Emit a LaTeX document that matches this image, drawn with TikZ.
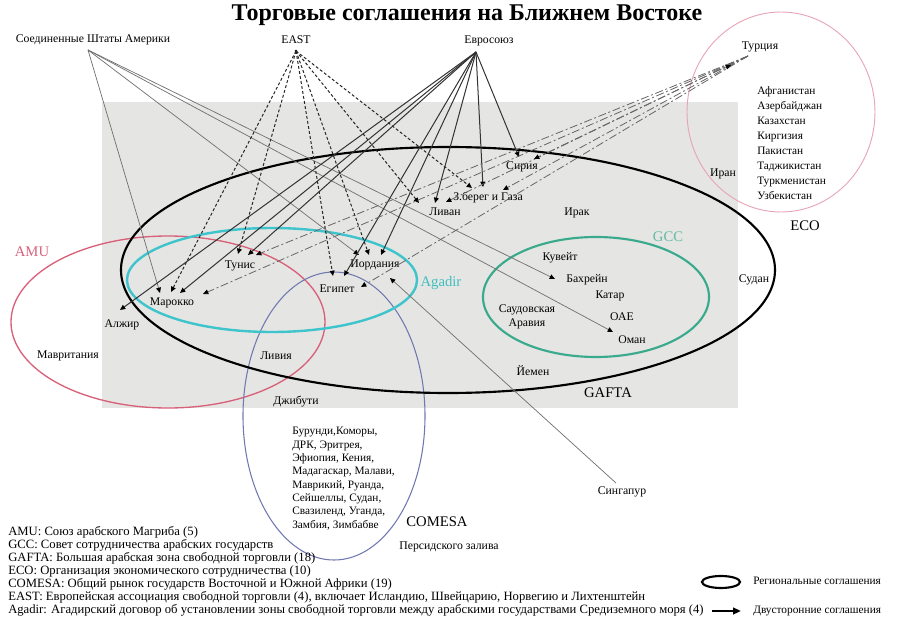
\documentclass[tikz,border=0pt]{standalone}
\usepackage{fontspec}
\setmainfont{Liberation Serif}
\usetikzlibrary{arrows.meta}
\definecolor{graybg}{HTML}{E5E5E3}
\definecolor{amucol}{HTML}{D9607A}
\definecolor{ecocol}{HTML}{E6A6B6}
\definecolor{comcol}{HTML}{7078B0}
\definecolor{agcol}{HTML}{3EC4CC}
\definecolor{gcccol}{HTML}{3AAA8C}
\tikzset{
  lbl/.style={font=\fontsize{8.8}{10}\selectfont, inner sep=0pt},
  big/.style={font=\fontsize{11}{13}\selectfont, inner sep=0pt},
  leg/.style={font=\fontsize{9.5}{10}\selectfont, inner sep=0pt, anchor=base west},
  tipped/.style={-{Triangle[length=4pt,width=3.6pt,color=black]}},
  usaline/.style={tipped, draw=black!55, line width=0.55pt},
  euline/.style={tipped, draw=black!80, line width=0.75pt},
  eftaline/.style={tipped, draw=black!85, line width=0.75pt, dash pattern=on 2.2pt off 1.6pt},
  tkline/.style={tipped, draw=black!60, line width=0.6pt, dash pattern=on 6pt off 2pt on 1.5pt off 2pt},
  sgline/.style={tipped, draw=black!55, line width=0.55pt},
}
\begin{document}
\begin{tikzpicture}[x=0.75pt,y=-0.75pt]
\useasboundingbox (0,0) rectangle (897,617);
% background
\fill[graybg] (102,102) rectangle (738,408);
% regional agreements
\draw[amucol, line width=1pt] (168,322) ellipse [x radius=157, y radius=86];
\draw[ecocol, line width=0.7pt] (781,112) ellipse [x radius=94, y radius=100];
\draw[comcol, line width=0.8pt] (334,416) ellipse [x radius=91, y radius=144];
\draw[agcol, line width=1.8pt] (272,280) ellipse [x radius=145, y radius=52];
\draw[gcccol, line width=1.6pt] (596,297) ellipse [x radius=113, y radius=60];
\draw[black, line width=1.6pt] (448,270) ellipse [x radius=327, y radius=123];

% title
\node[font=\fontsize{18}{21}\selectfont\bfseries, inner sep=0pt, anchor=base] (title) at (467,21) {Торговые соглашения на Ближнем Востоке};

% sources
\node[lbl] (usa) at (93,40) {Соединенные Штаты Америки};
\node[lbl] (east) at (296,40) {EAST};
\node[lbl] (eu) at (489,41) {Евросоюз};
\node[lbl] (tur) at (760,47) {Турция};
\coordinate (sUSA) at (88,50);
\coordinate (sEAST) at (296,51);
\coordinate (sEU) at (476,52);
\coordinate (sTK) at (748,56);
\fill (sEAST) circle [radius=1.3];

% group labels
\node[big, text=amucol] (amu) at (32,252) {AMU};
\node[big, text=agcol!80!gcccol] (agadir) at (441,283) {Agadir};
\node[big, text=gcccol!80!white] (gcc) at (668,237) {GCC};
\node[big] (gafta) at (608,393) {GAFTA};
\node[big] (comesa) at (437,522) {COMESA};
\node[big] (eco) at (805,226) {ECO};

% countries
\node[lbl] (alg) at (122,325) {Алжир};
\node[lbl] (mor) at (172,303) {Марокко};
\node[lbl] (tun) at (240,266) {Тунис};
\node[lbl] (egy) at (337,289) {Египет};
\node[lbl] (jor) at (375,265) {Иордания};
\node[lbl] (leb) at (445,212) {Ливан};
\node[lbl] (wbg) at (488,198) {З.берег и Газа};
\node[lbl] (syr) at (522,167) {Сирия};
\node[lbl] (irq) at (577,213) {Ирак};
\node[lbl] (kuw) at (560,258) {Кувейт};
\node[lbl] (bah) at (587,280) {Бахрейн};
\node[lbl] (qat) at (610,296) {Катар};
\node[lbl, align=center, font=\fontsize{8.8}{11}\selectfont] (sau) at (527,317) {Саудовская\\Аравия};
\node[lbl] (uae) at (622,317) {ОАЕ};
\node[lbl] (oma) at (632,340) {Оман};
\node[lbl] (yem) at (533,371) {Йемен};
\node[lbl] (sud) at (754,280) {Судан};
\node[lbl] (irn) at (723,174) {Иран};
\node[lbl] (lby) at (276,356) {Ливия};
\node[lbl] (mrt) at (68,356) {Мавритания};
\node[lbl] (dji) at (296,402) {Джибути};
\node[lbl] (sgp) at (622,492) {Сингапур};
\node[lbl] (pg) at (449,547) {Персидского залива};
\node[lbl, align=left, anchor=north west, font=\fontsize{8.5}{11.25}\selectfont] (ecolist) at (757,86)
  {Афганистан\\Азербайджан\\Казахстан\\Киргизия\\Пакистан\\Таджикистан\\Туркменистан\\Узбекистан};
\node[lbl, align=left, anchor=north west, font=\fontsize{8.5}{10}\selectfont] (comlist) at (292,427)
  {Бурунди,Коморы,\\ДРК, Эритрея,\\Эфиопия, Кения,\\Мадагаскар, Малави,\\Маврикий, Руанда,\\Сейшеллы, Судан,\\Свазиленд, Уганда,\\Замбия, Зимбабве};
\coordinate (sSG) at (616,483);

% arrow tips
\coordinate (mUSA) at (160,293); \coordinate (mEAST) at (171,292);
\coordinate (mEU) at (180,293);  \coordinate (mTK) at (203,294);
\coordinate (aEU) at (120,310);
\coordinate (tEAST) at (238,254); \coordinate (tEU) at (248,255); \coordinate (tTK) at (256,255);
\coordinate (eEAST) at (333,276); \coordinate (eEU) at (344,276); \coordinate (eTK) at (361,287);
\coordinate (jUSA) at (359,255); \coordinate (jEAST) at (369,255); \coordinate (jEU) at (381,255);
\coordinate (jSG) at (390,278);
\coordinate (lEAST) at (419,203); \coordinate (lEU) at (435,203); \coordinate (lTK) at (446,202);
\coordinate (wEAST) at (472,188); \coordinate (wEU) at (483,187); \coordinate (wTK) at (503,190);
\coordinate (yEU) at (519,157); \coordinate (yTK) at (534,159);
\coordinate (bUSA) at (555,279);
\coordinate (oUSA) at (613,332);

% USA
\foreach \t in {mUSA,jUSA,bUSA,oUSA} \draw[usaline] (sUSA) -- (\t);
% EAST
\foreach \t in {mEAST,tEAST,eEAST,jEAST,lEAST,wEAST} \draw[eftaline] (sEAST) -- (\t);
% EU
\foreach \t in {aEU,mEU,tEU,eEU,jEU,lEU,wEU,yEU} \draw[euline] (sEU) -- (\t);
% Turkey
\foreach \t in {mTK,tTK,eTK,lTK,wTK,yTK} \draw[tkline] (sTK) -- (\t);
\coordinate (tkA) at (714,72);
\coordinate (tkB) at (731,65);
\draw[tkline] (tkA) -- (tkB);
% Singapore
\draw[sgline] (sSG) -- (jSG);

% legend
\node[leg] (l1) at (8,535) {AMU: Союз арабского Магриба (5)};
\node[leg] (l2) at (8,548) {GCC: Совет сотрудничества арабских государств};
\node[leg] (l3) at (8,561) {GAFTA: Большая арабская зона свободной торговли (18)};
\node[leg] (l4) at (8,574) {ECO: Организация экономического сотрудничества (10)};
\node[leg] (l5) at (8,587) {COMESA: Общий рынок государств Восточной и Южной Африки (19)};
\node[leg] (l6) at (8,600) {EAST: Европейская ассоциация свободной торговли (4), включает Исландию, Швейцарию, Норвегию и Лихтенштейн};
\node[leg] (l7) at (8,613) {Agadir: Агадирский договор об установлении зоны свободной торговли между арабскими государствами Средиземного моря (4)};
\draw[line width=1.6pt] (721,582) ellipse [x radius=19, y radius=6];
\node[leg, anchor=west, font=\fontsize{8.5}{10}\selectfont] (regl) at (753,581) {Региональные соглашения};
\coordinate (la1) at (712,611);
\coordinate (la2) at (741,611);
\draw[line width=1.6pt, -{Triangle[length=6pt,width=5pt]}] (la1) -- (la2);
\node[leg, anchor=west, font=\fontsize{8.5}{10}\selectfont] (bil) at (753,611) {Двусторонние соглашения};
\end{tikzpicture}
\end{document}
